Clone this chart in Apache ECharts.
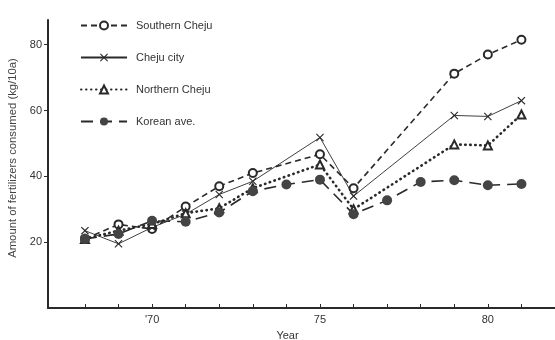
<!DOCTYPE html>
<html>
<head>
<meta charset="utf-8">
<script src="https://cdn.jsdelivr.net/npm/echarts@6/dist/echarts.min.js"></script>
<style>
  html, body { margin: 0; padding: 0; background: #fff; }
  #chart { width: 555px; height: 340px; }
</style>
</head>
<body>
<div id="chart"></div>
<script>
// years with a district value (no survey in 74, 77, 78)
const districtYears = [68, 69, 70, 71, 72, 73, 75, 76, 79, 80, 81];
const koreaYears = [68, 69, 70, 71, 72, 73, 74, 75, 76, 77, 78, 79, 80, 81];

const southernCheju = [21, 25.4, 24, 30.8, 37, 41, 46.7, 36.4, 71.2, 77, 81.5];
const chejuCity = [23.5, 19.5, 24.5, 28.5, 34.5, 38.5, 51.8, 34, 58.5, 58.2, 63];
const northernCheju = [21, 23.5, 25.5, 28.8, 30.3, 36.4, 43.6, 30, 49.7, 49.4, 58.8];
const koreanAve = [21, 22.5, 26.5, 26.2, 29, 35.5, 37.5, 39, 28.5, 32.7, 38.3, 38.8, 37.3, 37.7];

const yearTicks = [68, 69, 70, 71, 72, 73, 74, 75, 76, 77, 78, 79, 80, 81];
const yearLabels = [70, 75, 80];
const valueTicks = [20, 40, 60, 80];

const ink = '#2a2a2a';
const font = 'Liberation Sans, Arial, sans-serif';
const crossPath = 'path://M0,1L1,0L5,4L9,0L10,1L6,5L10,9L9,10L5,6L1,10L0,9L4,5Z';

function pairs(xs, ys) {
  return xs.map((x, i) => [x, ys[i]]);
}

const chart = echarts.init(document.getElementById('chart'));

const option = {
  animation: false,
  grid: { left: 48, right: 0, top: 20, bottom: 32, outerBoundsMode: 'none' },
  legend: {
    orient: 'vertical',
    left: 80,
    top: 20,
    padding: 0,
    itemWidth: 46,
    itemHeight: 10,
    itemGap: 21,
    textStyle: { fontFamily: font, fontSize: 11, color: '#333', padding: [0, 0, 0, 4] },
    data: ['Southern Cheju', 'Cheju city', 'Northern Cheju', 'Korean ave.']
  },
  xAxis: {
    type: 'value',
    min: 66.9,
    max: 82,
    name: 'Year',
    nameLocation: 'middle',
    nameGap: 22,
    nameTextStyle: { fontFamily: font, fontSize: 11, color: '#333', padding: [0, 28, 0, 0] },
    axisLine: { lineStyle: { color: ink, width: 2 } },
    axisTick: { inside: true, length: 4, customValues: yearTicks, lineStyle: { color: ink } },
    axisLabel: {
      customValues: yearLabels,
      margin: 6,
      fontFamily: font,
      fontSize: 11,
      color: '#333',
      formatter: v => (v === 70 ? "'70" : String(v))
    },
    splitLine: { show: false }
  },
  yAxis: {
    type: 'value',
    min: 0,
    max: 87.5,
    name: 'Amount of fertilizers consumed (kg/10a)',
    nameLocation: 'middle',
    nameGap: 29,
    nameTextStyle: { fontFamily: font, fontSize: 11.3, color: '#444', padding: [0, 0, 0, 12] },
    axisLine: { show: true, lineStyle: { color: ink, width: 2 } },
    axisTick: { show: true, length: 4, customValues: valueTicks, lineStyle: { color: ink } },
    axisLabel: { customValues: valueTicks, margin: 6, fontFamily: font, fontSize: 11, color: '#333' },
    splitLine: { show: false }
  },
  series: [
    {
      name: 'Southern Cheju',
      type: 'line',
      data: pairs(districtYears, southernCheju),
      symbol: 'emptyCircle',
      symbolSize: 8,
      itemStyle: { color: ink, borderWidth: 1.2 },
      lineStyle: { color: ink, width: 1.6, type: [6, 4] }
    },
    {
      name: 'Cheju city',
      type: 'line',
      data: pairs(districtYears, chejuCity),
      symbol: crossPath,
      symbolSize: 8,
      itemStyle: { color: ink },
      lineStyle: { color: ink, width: 0.9 }
    },
    {
      name: 'Northern Cheju',
      type: 'line',
      data: pairs(districtYears, northernCheju),
      symbol: 'emptyTriangle',
      symbolSize: 8,
      itemStyle: { color: ink, borderWidth: 1.2 },
      lineStyle: { color: ink, width: 2.6, type: [0.5, 4.5], cap: 'round' }
    },
    {
      name: 'Korean ave.',
      type: 'line',
      data: pairs(koreaYears, koreanAve),
      symbol: 'circle',
      symbolSize: 10,
      itemStyle: { color: '#444' },
      lineStyle: { color: ink, width: 1.6, type: [12, 7] }
    }
  ]
};

chart.setOption(option);
</script>
</body>
</html>
